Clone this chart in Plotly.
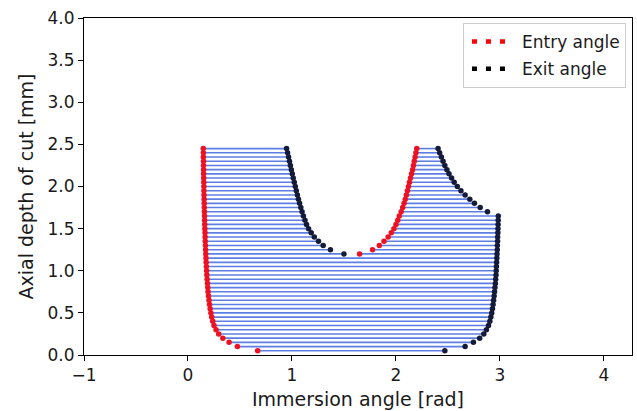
import plotly.graph_objects as go

# Axial depth levels [mm]
depth = [0.05, 0.10, 0.15, 0.20, 0.25, 0.30, 0.35, 0.40, 0.45, 0.50,
         0.55, 0.60, 0.65, 0.70, 0.75, 0.80, 0.85, 0.90, 0.95, 1.00,
         1.05, 1.10, 1.15, 1.20, 1.25, 1.30, 1.35, 1.40, 1.45, 1.50,
         1.55, 1.60, 1.65, 1.70, 1.75, 1.80, 1.85, 1.90, 1.95, 2.00,
         2.05, 2.10, 2.15, 2.20, 2.25, 2.30, 2.35, 2.40, 2.45]

# Entry angle of the first (left) engagement zone, one per depth
entry_left = [0.67, 0.475, 0.395, 0.335, 0.295, 0.27, 0.25, 0.238, 0.228, 0.22,
              0.213, 0.207, 0.202, 0.197, 0.193, 0.19, 0.187, 0.184, 0.181, 0.179,
              0.177, 0.175, 0.173, 0.171, 0.169, 0.168, 0.166, 0.165, 0.164, 0.162,
              0.161, 0.16, 0.159, 0.158, 0.157, 0.156, 0.155, 0.154, 0.153, 0.153,
              0.152, 0.151, 0.15, 0.15, 0.149, 0.149, 0.148, 0.148, 0.147]

# Exit angle of the last (right) engagement zone, one per depth
exit_right = [2.47, 2.665, 2.745, 2.805, 2.845, 2.87, 2.89, 2.903, 2.913, 2.921,
              2.928, 2.934, 2.939, 2.944, 2.948, 2.952, 2.956, 2.959, 2.962, 2.964,
              2.966, 2.968, 2.97, 2.972, 2.974, 2.975, 2.977, 2.978, 2.98, 2.981,
              2.982, 2.983, 2.984, 2.88, 2.81, 2.755, 2.71, 2.665, 2.625, 2.59,
              2.56, 2.535, 2.51, 2.49, 2.47, 2.453, 2.437, 2.42, 2.405]

# Depths where the cut splits into two zones
depth_split = [1.20, 1.25, 1.30, 1.35, 1.40, 1.45, 1.50, 1.55, 1.60, 1.65,
               1.70, 1.75, 1.80, 1.85, 1.90, 1.95, 2.00, 2.05, 2.10, 2.15,
               2.20, 2.25, 2.30, 2.35, 2.40, 2.45]
exit_mid = [1.50, 1.37, 1.30, 1.255, 1.215, 1.185, 1.16, 1.14, 1.125, 1.11,
            1.097, 1.085, 1.073, 1.062, 1.052, 1.042, 1.032, 1.022, 1.012, 1.003,
            0.994, 0.985, 0.976, 0.967, 0.958, 0.948]
entry_mid = [1.65, 1.775, 1.84, 1.885, 1.925, 1.955, 1.98, 2.0, 2.017, 2.032,
             2.05, 2.065, 2.078, 2.09, 2.10, 2.11, 2.12, 2.13, 2.14, 2.15,
             2.16, 2.168, 2.176, 2.184, 2.192, 2.2]

# Build engagement segments
mid_exit = dict(zip(depth_split, exit_mid))
mid_entry = dict(zip(depth_split, entry_mid))
seg_x, seg_y = [], []
for d, a, b in zip(depth, entry_left, exit_right):
    if d in mid_exit:
        seg_x += [a, mid_exit[d], None, mid_entry[d], b, None]
        seg_y += [d, d, None, d, d, None]
    else:
        seg_x += [a, b, None]
        seg_y += [d, d, None]

entry_x = entry_left + entry_mid
entry_y = depth + depth_split
exit_x = exit_right + exit_mid
exit_y = depth + depth_split

FONT = "DejaVu Sans"
TXT = "#1a1a1a"
DOTS = "0px,3px,5px,9px,5px,9px,5px,300px"
fig = go.Figure()
fig.add_trace(go.Scatter(x=seg_x, y=seg_y, mode="lines",
                         line=dict(color="rgba(65,105,225,0.85)", width=1.6),
                         showlegend=False, hoverinfo="skip"))
fig.add_trace(go.Scatter(x=entry_x, y=entry_y, mode="markers",
                         marker=dict(color="#ee1122", size=5.5),
                         showlegend=False))
fig.add_trace(go.Scatter(x=exit_x, y=exit_y, mode="markers",
                         marker=dict(color="#141a3a", size=5.5),
                         showlegend=False))
# legend samples (three dots like matplotlib's dotted marker legend)
fig.add_trace(go.Scatter(x=[None], y=[None], mode="lines", name="Entry angle",
                         legendgroup="a",
                         line=dict(color="red", width=4.5, dash=DOTS)))
fig.add_trace(go.Scatter(x=[None], y=[None], mode="lines", name="Exit angle",
                         legendgroup="b",
                         line=dict(color="black", width=4.5, dash=DOTS)))

axis_common = dict(showline=True, linecolor="black", linewidth=1, mirror=True,
                   ticks="outside", ticklen=5, tickcolor="black", showgrid=False,
                   zeroline=False, tickfont=dict(family=FONT, size=17, color=TXT))
fig.update_xaxes(range=[-1, 4.27], tickvals=[-1, 0, 1, 2, 3, 4],
                 ticktext=["\u22121", "0", "1", "2", "3", "4"],
                 title=dict(text="Immersion angle [rad]", font=dict(family=FONT, size=19, color=TXT),
                            standoff=8), **axis_common)
fig.update_yaxes(range=[0, 4], tickvals=[0, 0.5, 1, 1.5, 2, 2.5, 3, 3.5, 4],
                 tickformat=".1f",
                 title=dict(text="Axial depth of cut [mm]", font=dict(family=FONT, size=19, color=TXT),
                            standoff=8), **axis_common)
fig.update_layout(width=637, height=411, margin=dict(l=84, r=5, t=18, b=56),
                  plot_bgcolor="white", paper_bgcolor="white",
                  legend=dict(x=0.989, y=0.985, xanchor="right", yanchor="top",
                              bordercolor="#cccccc", borderwidth=1, bgcolor="white",
                              font=dict(family=FONT, size=17, color=TXT),
                              itemwidth=48, tracegroupgap=2))
fig.write_html("out.html")
